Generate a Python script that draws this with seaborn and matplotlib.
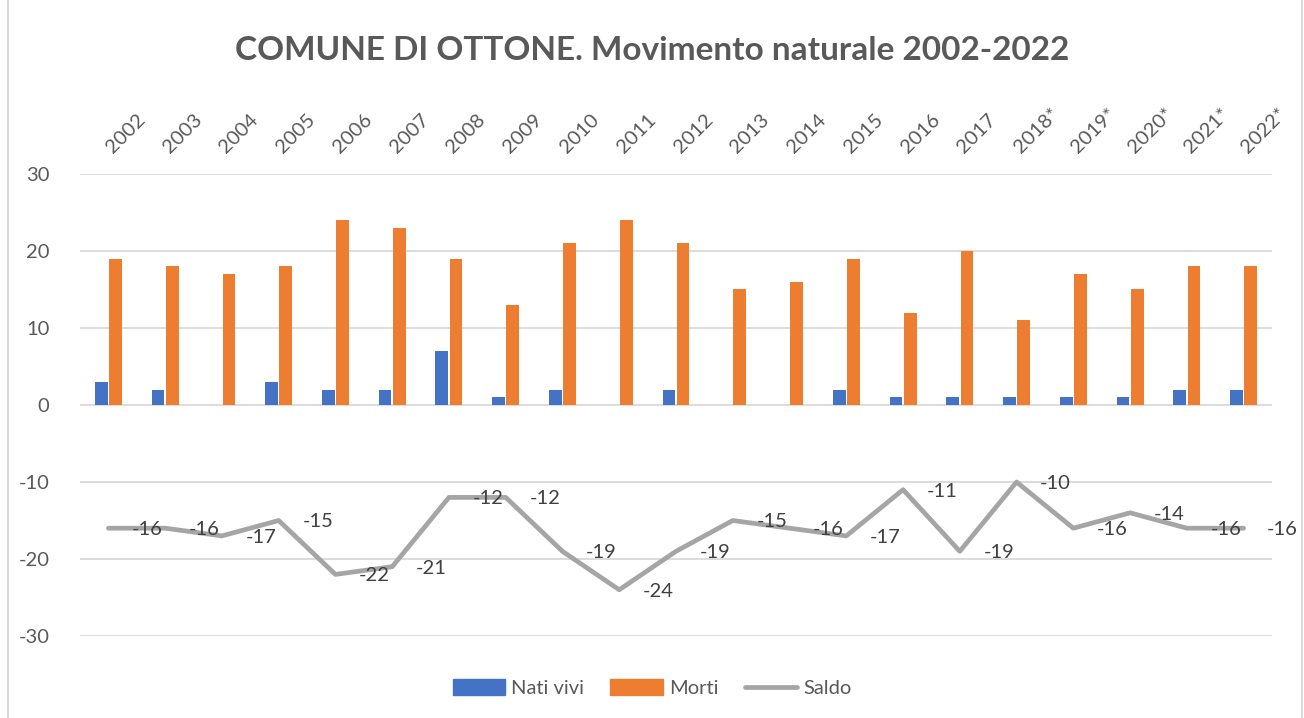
import matplotlib
matplotlib.use("Agg")
import matplotlib.pyplot as plt
import matplotlib.transforms as mtransforms
from matplotlib.patches import Patch, Rectangle
from matplotlib.lines import Line2D
import seaborn as sns
import pandas as pd
import numpy as np

years = ["2002", "2003", "2004", "2005", "2006", "2007", "2008", "2009", "2010", "2011",
         "2012", "2013", "2014", "2015", "2016", "2017", "2018*", "2019*", "2020*", "2021*", "2022*"]
nati = [3, 2, 0, 3, 2, 2, 7, 1, 2, 0, 2, 0, 0, 2, 1, 1, 1, 1, 1, 2, 2]
morti = [19, 18, 17, 18, 24, 23, 19, 13, 21, 24, 21, 15, 16, 19, 12, 20, 11, 17, 15, 18, 18]
saldo = [-16, -16, -17, -15, -22, -21, -12, -12, -19, -24, -19, -15, -16, -17, -11, -19, -10, -16, -14, -16, -16]
series_names = ["Nati vivi", "Morti", "Saldo"]
title = "COMUNE DI OTTONE. Movimento naturale 2002-2022"

BLUE = "#4472C4"
ORANGE = "#ED7D31"
GRAY = "#A5A5A5"
TXT = "#595959"

sns.set_theme(style="white")
plt.rcParams["font.family"] = ["Lato", "DejaVu Sans"]

fig = plt.figure(figsize=(13.04, 7.18), dpi=100)
ax = fig.add_axes([80 / 1304, 1 - 636 / 718, (1272 - 80) / 1304, (636 - 174) / 718])

bars = pd.DataFrame({
    "Anno": years * 2,
    "Serie": [series_names[0]] * len(years) + [series_names[1]] * len(years),
    "Valore": nati + morti,
})
sns.barplot(data=bars, x="Anno", y="Valore", hue="Serie", order=years,
            hue_order=series_names[:2], palette=[BLUE, ORANGE], saturation=1,
            width=0.5, gap=0.1, edgecolor="none", linewidth=0, ax=ax,
            legend=False, zorder=2)

pos = np.arange(len(years))
line_df = pd.DataFrame({"pos": pos, "Saldo": saldo})
sns.lineplot(data=line_df, x="pos", y="Saldo", color=GRAY, linewidth=3.4, ax=ax,
             zorder=3, solid_capstyle="round", solid_joinstyle="round")

for i, v in enumerate(saldo):
    ax.annotate(str(v), (pos[i], v), xytext=(17, -1), textcoords="offset points",
                ha="left", va="center", fontsize=14.5, color="#404040", zorder=4)

ax.set_xlim(-0.5, len(years) - 0.5)
ax.set_ylim(-30, 30)
ax.set_yticks([-30, -20, -10, 0, 10, 20, 30])
ax.set_yticklabels(["-30", "-20", "-10", "0", "10", "20", "30"])
ax.tick_params(axis="y", labelsize=14.5, labelcolor=TXT, length=0, pad=22)
ax.set_xticks([])
ax.set_xlabel("")
ax.set_ylabel("")
ax.grid(axis="y", color="#D9D9D9", linewidth=1.3, zorder=0)
ax.set_axisbelow(True)
for s in ax.spines.values():
    s.set_visible(False)

trans = mtransforms.blended_transform_factory(ax.transData, ax.transAxes)
for i, y in enumerate(years):
    ax.text(i + 0.08, 1.043, y, transform=trans, rotation=45, rotation_mode="anchor",
            ha="left", va="baseline", fontsize=14.5, color=TXT)

fig.text(0.5, 1 - 50 / 718, title, ha="center", va="center", fontsize=24,
         fontweight="bold", color=TXT)

handles = [Patch(facecolor=BLUE, edgecolor=BLUE), Patch(facecolor=ORANGE, edgecolor=ORANGE),
           Line2D([0], [0], color=GRAY, linewidth=3.4, solid_capstyle="round")]
fig.legend(handles, series_names, loc="center", bbox_to_anchor=(0.5, 1 - 688 / 718),
           ncol=3, frameon=False, fontsize=14.5, labelcolor=TXT, handlelength=2.6,
           handleheight=0.8, handletextpad=0.3, columnspacing=1.3)

fig.add_artist(Rectangle((8 / 1304, -0.01), (1302 - 8) / 1304, 1.02, transform=fig.transFigure,
                         fill=False, edgecolor="#D9D9D9", linewidth=1.5))

fig.savefig("out.png", dpi=100)
